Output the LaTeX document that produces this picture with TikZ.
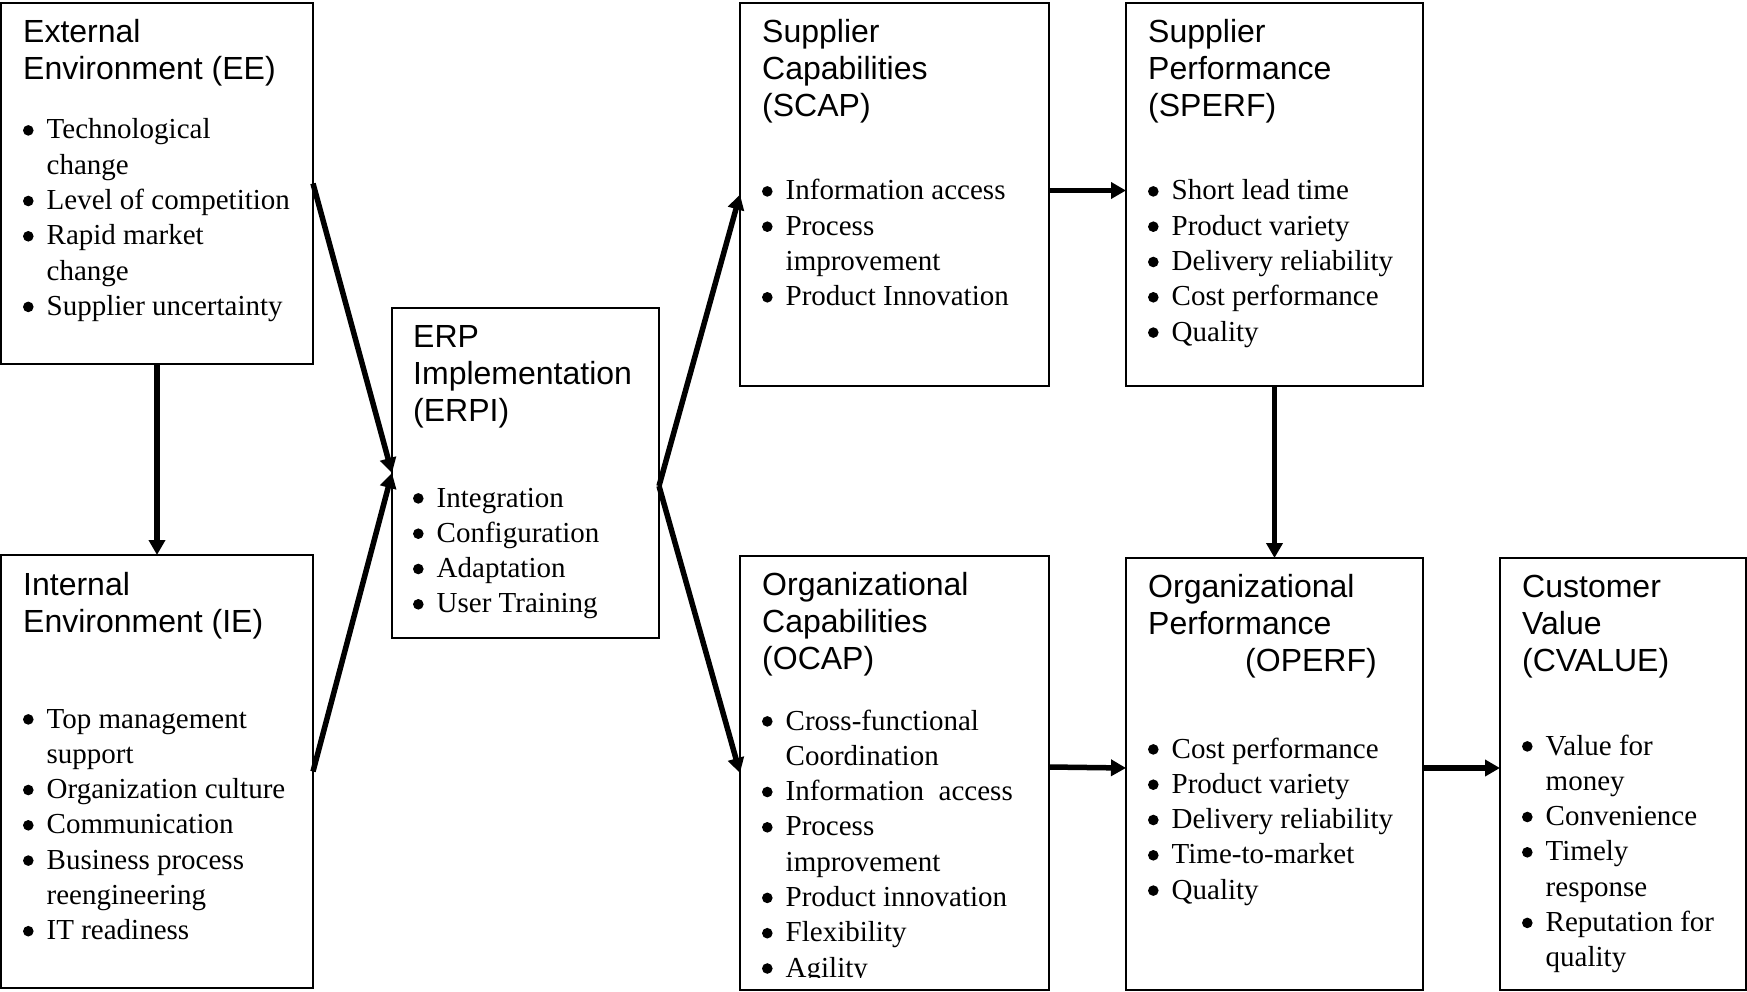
\documentclass[tikz,border=0pt]{standalone}
\usepackage{fontspec}
\setmainfont{Liberation Serif}
\newfontfamily\ttlfont{Liberation Sans}
\usetikzlibrary{arrows.meta}
\newcommand{\bulletsat}[3]{%
  \foreach \k in {#3} {\fill ({#1+5.3},{#2+35.3*\k-8.6}) circle[radius=5.3pt];}}
\tikzset{
  box/.style={draw, line width=2pt, inner sep=0pt, outer sep=0pt, anchor=north west},
  ttl/.style={inner sep=0pt, anchor=base west, font=\ttlfont\fontsize{32}{37}\selectfont},
  lst/.style={inner sep=0pt, anchor=base west, font=\fontsize{29}{35.3}\selectfont},
  arr/.style={line width=5.5pt, -{Triangle[length=15pt,width=16pt]}}
}
\begin{document}
\begin{tikzpicture}[x=1pt,y=-1pt]
\useasboundingbox (0,0) rectangle (1747,992);
% boxes
\node[box, minimum width=312pt, minimum height=361pt] (ee) at (1,3) {};
\node[box, minimum width=312pt, minimum height=433pt] (ie) at (1,555) {};
\node[box, minimum width=267pt, minimum height=330pt] (erpi) at (392,308) {};
\node[box, minimum width=309pt, minimum height=383pt] (scap) at (740,3) {};
\node[box, minimum width=297pt, minimum height=383pt] (sperf) at (1126,3) {};
\node[box, minimum width=309pt, minimum height=434pt] (ocap) at (740,556) {};
\node[box, minimum width=297pt, minimum height=432pt] (operf) at (1126,558) {};
\node[box, minimum width=246pt, minimum height=432pt] (cval) at (1500,558) {};
% titles
\node[ttl] (eet) at (23,43) {\begin{tabular}[t]{@{}l@{}}External\\Environment (EE)\end{tabular}};
\node[ttl] (iet) at (23,595) {\begin{tabular}[t]{@{}l@{}}Internal\\Environment (IE)\end{tabular}};
\node[ttl] (erpit) at (413,347) {\begin{tabular}[t]{@{}l@{}}ERP\\Implementation\\(ERPI)\end{tabular}};
\node[ttl] (scapt) at (762,43) {\begin{tabular}[t]{@{}l@{}}Supplier\\Capabilities\\(SCAP)\end{tabular}};
\node[ttl] (sperft) at (1148,43) {\begin{tabular}[t]{@{}l@{}}Supplier\\Performance\\(SPERF)\end{tabular}};
\node[ttl] (ocapt) at (762,595) {\begin{tabular}[t]{@{}l@{}}Organizational\\Capabilities\\(OCAP)\end{tabular}};
\node[ttl] (operft) at (1148,597) {\begin{tabular}[t]{@{}l@{}}Organizational\\Performance\\\hspace*{97pt}(OPERF)\end{tabular}};
\node[ttl] (cvalt) at (1522,597) {\begin{tabular}[t]{@{}l@{}}Customer\\Value\\(CVALUE)\end{tabular}};
% bullet lists
\node[lst] (eel) at (46.5,139) {\begin{tabular}[t]{@{}l@{}}
Technological\\ change\\ Level of competition\\ Rapid market\\ change\\ Supplier uncertainty\end{tabular}};
\bulletsat{23}{139}{0,2,3,5}
\node[lst] (iel) at (46.5,728) {\begin{tabular}[t]{@{}l@{}}
Top management\\ support\\ Organization culture\\ Communication\\ Business process\\ reengineering\\ IT readiness\end{tabular}};
\bulletsat{23}{728}{0,2,3,4,6}
\node[lst] (erpil) at (436.5,507) {\begin{tabular}[t]{@{}l@{}}
Integration\\ Configuration\\ Adaptation\\ User Training\end{tabular}};
\bulletsat{413}{507}{0,1,2,3}
\node[lst] (scapl) at (785.5,200) {\begin{tabular}[t]{@{}l@{}}
Information access\\ Process\\ improvement\\ Product Innovation\end{tabular}};
\bulletsat{762}{200}{0,1,3}
\node[lst] (sperfl) at (1171.5,200) {\begin{tabular}[t]{@{}l@{}}
Short lead time\\ Product variety\\ Delivery reliability\\ Cost performance\\ Quality\end{tabular}};
\bulletsat{1148}{200}{0,1,2,3,4}
\begin{scope}
\clip (740,556) rectangle (1049,977);
\node[lst] (ocapl) at (785.5,730) {\begin{tabular}[t]{@{}l@{}}
Cross-functional\\ Coordination\\ Information\ \ access\\ Process\\ improvement\\ Product innovation\\ Flexibility\\ Agility\end{tabular}};
\bulletsat{762}{730}{0,2,3,5,6,7}
\end{scope}
\node[lst] (operfl) at (1171.5,758) {\begin{tabular}[t]{@{}l@{}}
Cost performance\\ Product variety\\ Delivery reliability\\ Time-to-market\\ Quality\end{tabular}};
\bulletsat{1148}{758}{0,1,2,3,4}
\node[lst] (cvall) at (1545.5,755) {\begin{tabular}[t]{@{}l@{}}
Value for\\ money\\ Convenience\\ Timely\\ response\\ Reputation for\\ quality\end{tabular}};
\bulletsat{1522}{755}{0,2,3,5}
% connectors
\draw[arr] (ee.south) -- (ie.north);
\draw[arr] (ee.east) -- (erpi.west);
\draw[arr] (ie.east) -- (erpi.west);
\draw[arr] ([yshift=-13pt]erpi.east) -- (scap.west);
\draw[arr] ([yshift=-13pt]erpi.east) -- (ocap.west);
\draw[arr] ([yshift=4pt]scap.east) -- ([yshift=4pt]sperf.west);
\draw[arr] (sperf.south) -- (operf.north);
\draw[arr] ([yshift=6pt]ocap.east) -- ([yshift=6pt]operf.west);
\draw[arr] ([yshift=6pt]operf.east) -- ([yshift=6pt]cval.west);
\end{tikzpicture}
\end{document}
